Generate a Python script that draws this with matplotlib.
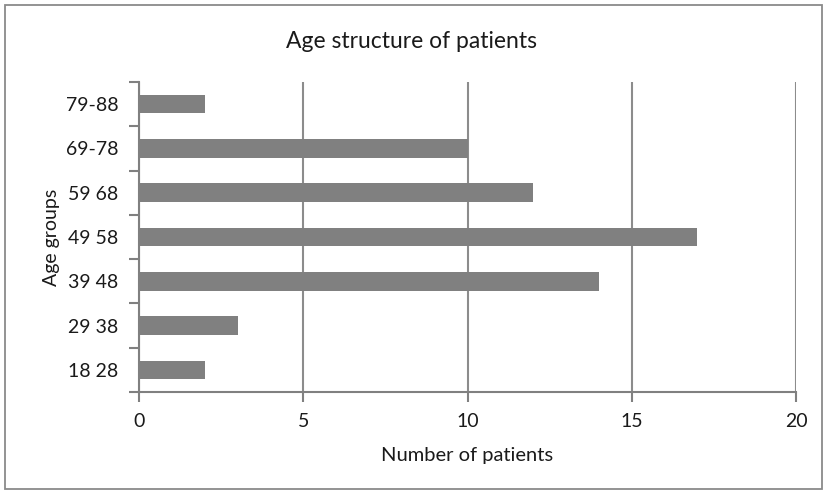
import matplotlib
matplotlib.use("Agg")
import matplotlib.pyplot as plt
from matplotlib.patches import Rectangle

categories = ["18 28", "29 38", "39 48", "49 58", "59 68", "69-78", "79-88"]
values = [2, 3, 14, 17, 12, 10, 2]
xticks = [0, 5, 10, 15, 20]

plt.rcParams['font.family'] = ['Lato', 'DejaVu Sans']

W, H = 823, 490
fig = plt.figure(figsize=(W/100, H/100), dpi=100)
fig.patches.append(Rectangle((5/W, 1.5/H), 816.5/W, 1 - 7/H, transform=fig.transFigure,
                             fill=False, edgecolor='#8a8a8a', linewidth=1.3))

ax = fig.add_axes([139/W, 1 - 392/H, (796-139)/W, (392-82)/H])
ypos = list(range(len(categories)))
ax.barh(ypos, values, height=0.42, color='#808080', zorder=3)
ax.set_xlim(0, 20)
ax.set_ylim(-0.5, len(categories) - 0.5)
ax.set_xticks(xticks)
ax.set_xticklabels([str(t) for t in xticks], fontsize=14, color='#1a1a1a')
ax.set_yticks(ypos)
ax.set_yticklabels(categories, fontsize=14, color='#1a1a1a')
ax.set_yticks([i - 0.5 for i in range(len(categories) + 1)], minor=True)
ax.tick_params(axis='y', which='major', length=0, pad=15)
ax.tick_params(axis='y', which='minor', length=7, color='#808080', width=1.5)
ax.tick_params(axis='x', length=7, color='#808080', width=1.5, pad=8)
ax.grid(axis='x', color='#8c8c8c', linewidth=1.5, zorder=0)
for s in ['top', 'right']:
    ax.spines[s].set_visible(False)
for s in ['left', 'bottom']:
    ax.spines[s].set_color('#808080')
    ax.spines[s].set_linewidth(1.5)
ax.set_xlabel("Number of patients", fontsize=14.5, color='#1a1a1a', labelpad=12)
ax.set_ylabel("Age groups", fontsize=14, color='#1a1a1a', labelpad=4)
fig.text(0.5, 1 - 42/H, "Age structure of patients",
         ha='center', va='center', fontsize=16.5, color='#1a1a1a')

fig.savefig("out.png", dpi=100)
